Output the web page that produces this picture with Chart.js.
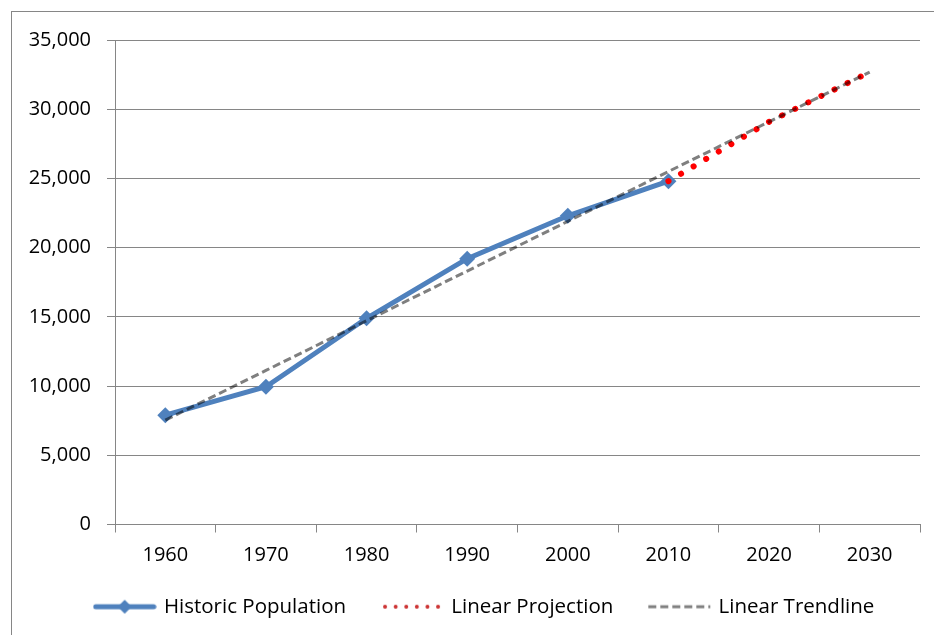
<!DOCTYPE html>
<html>
<head>
<meta charset="utf-8">
<script src="https://cdn.jsdelivr.net/npm/chart.js@4"></script>
<style>
    body { margin: 0; background: #fff; overflow: hidden; width: 934px; height: 635px; }
    #caja {
        position: absolute;
        left: 11px;
        top: 11px;
        border-left: 1px solid #868686;
        border-top: 1px solid #868686;
    }
</style>
</head>
<body>
<div id="caja"><canvas id="poblacion" width="946" height="625"></canvas></div>
<script>
const years = ["1960", "1970", "1980", "1990", "2000", "2010", "2020", "2030"];
const historic = [7900, 9950, 14900, 19200, 22300, 24800, null, null];
const projection = [null, null, null, null, null, 24800, 29090, 32680];
const trendline = [7540, 11130, 14720, 18310, 21900, 25500, 29090, 32680];

const gris = "#868686";

// iconos de la leyenda
function icono(tipo) {
    const c = document.createElement("canvas");
    c.width = 64;
    c.height = 20;
    const g = c.getContext("2d");
    if (tipo === "historic") {
        g.strokeStyle = "#4F81BD";
        g.lineWidth = 5;
        g.lineCap = "round";
        g.beginPath();
        g.moveTo(3, 10);
        g.lineTo(61, 10);
        g.stroke();
        g.fillStyle = "#4F81BD";
        g.beginPath();
        g.moveTo(32, 3);
        g.lineTo(39, 10);
        g.lineTo(32, 17);
        g.lineTo(25, 10);
        g.closePath();
        g.fill();
    } else if (tipo === "projection") {
        g.fillStyle = "#cc3333";
        for (let i = 0; i < 6; i++) {
            g.beginPath();
            g.arc(5 + i * 10.6, 10, 2, 0, Math.PI * 2);
            g.fill();
        }
    } else {
        g.strokeStyle = "#808080";
        g.lineWidth = 3;
        g.setLineDash([8, 4]);
        g.beginPath();
        g.moveTo(1, 10);
        g.lineTo(63, 10);
        g.stroke();
    }
    return c;
}

const iconos = [icono("historic"), icono("projection"), icono("trend")];

// la leyenda se centra en todo el ancho y sube un poco
const ajustarLeyenda = {
    id: "ajustarLeyenda",
    afterLayout(chart) {
        chart.legend.right += 38;
        chart.legend.top -= 10;
        chart.legend.bottom -= 10;
    }
};

Chart.defaults.font.family = "'Open Sans'";
Chart.defaults.font.size = 20;
Chart.defaults.color = "#000";

new Chart(document.getElementById("poblacion").getContext("2d"), {
    type: "line",
    data: {
        labels: years,
        datasets: [
            {
                label: "Historic Population",
                data: historic,
                borderColor: "#4F81BD",
                backgroundColor: "#4F81BD",
                borderWidth: 5,
                pointStyle: "rectRot",
                pointRadius: 8,
                pointBorderWidth: 0,
                pointBackgroundColor: "#4F81BD",
                tension: 0,
                order: 3
            },
            {
                label: "Linear Projection",
                data: projection,
                borderColor: "#ff0000",
                borderWidth: 6,
                borderDash: [0.1, 14.5],
                borderCapStyle: "round",
                pointRadius: 0,
                tension: 0,
                order: 2
            },
            {
                label: "Linear Trendline",
                data: trendline,
                borderColor: "rgba(0,0,0,0.5)",
                borderWidth: 3,
                borderDash: [8, 4],
                pointRadius: 0,
                tension: 0,
                order: 1
            }
        ]
    },
    options: {
        responsive: false,
        animation: false,
        layout: { padding: { top: 25, right: 38, left: 0, bottom: 0 } },
        scales: {
            x: {
                type: "category",
                offset: true,
                grid: {
                    offset: true,
                    drawOnChartArea: false,
                    drawTicks: true,
                    tickLength: 8,
                    color: gris
                },
                border: { color: gris, width: 1 },
                ticks: { padding: 11, maxRotation: 0, autoSkip: false },
                afterFit: (s) => { s.height = 45; }
            },
            y: {
                min: 0,
                max: 35000,
                ticks: { stepSize: 5000, padding: 16 },
                grid: { color: gris, tickLength: 8 },
                border: { color: gris, width: 1 },
                afterFit: (s) => { s.width = 103; }
            }
        },
        plugins: {
            tooltip: { enabled: false },
            legend: {
                position: "bottom",
                labels: {
                    font: { size: 20.5 },
                    usePointStyle: true,
                    pointStyleWidth: 58,
                    padding: 37,
                    sort: (a, b) => a.datasetIndex - b.datasetIndex,
                    generateLabels: (chart) => chart.data.datasets.map((ds, i) => ({
                        text: ds.label,
                        pointStyle: iconos[i],
                        datasetIndex: i,
                        hidden: false,
                        lineWidth: 0,
                        fontColor: "#000"
                    }))
                }
            }
        }
    },
    plugins: [ajustarLeyenda]
});
</script>
</body>
</html>
